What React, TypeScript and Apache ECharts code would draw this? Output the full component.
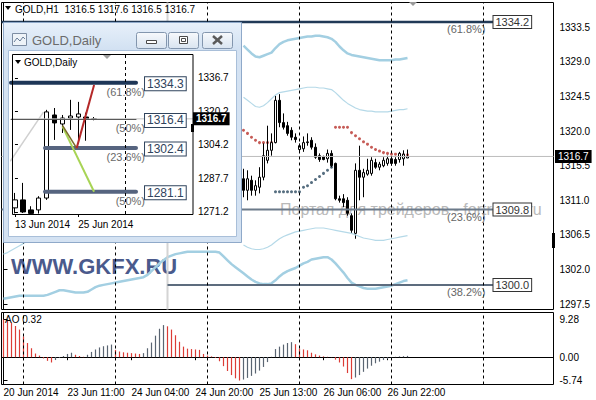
import React, { useEffect, useRef } from "react";
import * as echarts from "echarts";

const FONT = '"Liberation Sans", Arial, sans-serif';

// ---------------- H1 (main) chart data ----------------
const hourDays: [string, number, number][] = [
  ["20 Jun", 18, 22], ["23 Jun", 0, 22], ["24 Jun", 0, 22], ["25 Jun", 0, 22],
  ["26 Jun", 0, 22], ["27 Jun", 0, 22], ["30 Jun", 0, 17],
];
const h1Categories: string[] = [];
hourDays.forEach(([d, a, b]) => {
  for (let h = a; h <= b; h++) h1Categories.push(`${d} ${String(h).padStart(2, "0")}:00`);
});
const timeTickCats = ["20 Jun 18:00", "23 Jun 11:00", "24 Jun 04:00", "24 Jun 20:00", "25 Jun 13:00", "26 Jun 06:00", "26 Jun 22:00"];
const timeTickLabels = ["20 Jun 2014", "23 Jun 11:00", "24 Jun 04:00", "24 Jun 20:00", "25 Jun 13:00", "26 Jun 06:00", "26 Jun 22:00"];
const daySeparators = ["23 Jun 00:00", "24 Jun 00:00", "25 Jun 00:00", "26 Jun 00:00", "27 Jun 00:00", "30 Jun 00:00"];

const priceTicks = [1297.5, 1302.0, 1306.5, 1311.0, 1315.5, 1320.0, 1324.5, 1329.0, 1333.5];
const aoTicks = [-5.74, 0, 9.28];

const barCount = 102;
const firstVisibleBar = 60; // earlier bars are hidden behind the Daily window
const h1Open = [1313.8,1312.3,1313.6,1312.3,1312.7,1314.0,1316.2,1317.5,1318.5,1324.0,1321.1,1320.7,1320.1,1319.2,1317.6,1317.7,1318.5,1318.8,1317.9,1316.8,1316.7,1316.4,1317.1,1315.8,1311.2,1311.2,1311.0,1309.0,1306.7,1314.9,1314.0,1314.4,1314.5,1315.9,1315.3,1315.5,1315.8,1316.4,1316.3,1316.3,1316.4,1316.5];
const h1Close = [1312.3,1313.8,1312.3,1312.9,1314.0,1316.8,1317.5,1318.5,1324.0,1321.1,1320.5,1319.7,1319.2,1318.9,1318.1,1318.5,1318.6,1317.9,1316.6,1316.3,1316.3,1317.1,1315.5,1311.2,1311.0,1310.7,1309.3,1307.1,1314.9,1314.0,1314.6,1314.9,1316.2,1315.3,1315.7,1316.2,1316.4,1315.8,1315.8,1317.1,1317.0,1316.7];
const h1Low = [1311.4,1311.0,1311.6,1311.6,1311.9,1313.6,1315.8,1316.8,1318.4,1320.5,1320.2,1319.4,1318.8,1318.5,1317.2,1317.3,1318.1,1317.6,1316.4,1316.0,1316.2,1315.9,1315.3,1311.0,1310.7,1310.1,1309.0,1306.7,1306.0,1311.0,1311.4,1314.2,1314.2,1315.1,1314.9,1315.3,1315.5,1315.5,1315.5,1315.9,1315.5,1316.5];
const h1High = [1315.1,1314.9,1314.2,1313.6,1315.3,1318.4,1320.7,1319.7,1324.6,1324.8,1322.3,1321.2,1320.5,1319.7,1318.4,1319.3,1319.7,1319.2,1318.4,1317.1,1316.8,1317.6,1317.5,1315.9,1311.6,1311.8,1311.4,1309.3,1315.8,1318.1,1315.1,1316.4,1316.6,1316.4,1316.0,1316.6,1316.8,1316.7,1316.6,1317.3,1317.5,1317.6];

// Parabolic SAR (bars 60..101)
const sarAbove = [1320.1,1319.7,1319.2,1318.8,1318.5,1318.5,1318.5,1318.5,null,null,null,null,null,null,null,null,null,null,null,null,null,null,null,1320.5,1320.5,1320.5,1320.5,1319.8,1319.4,1319.0,1318.6,1318.3,1317.9,1317.6,1317.4,1317.2,1317.1,1317.0,1317.0,1316.9,1316.9,1316.9];
const sarBelow = [null,null,null,null,null,null,null,null,1312.1,1312.1,1312.1,1312.1,1312.1,1312.1,1312.1,1312.7,1312.9,1313.3,1313.7,1314.1,1314.5,1314.9,1315.3,null,null,null,null,null,null,null,null,null,null,null,null,null,null,null,null,null,null,null];

// Bands (bars 60..101 for the upper ones)
const upperOuter = [1331.1,1330.6,1330.1,1329.7,1329.6,1329.8,1330.0,1330.2,1330.8,1331.3,1331.6,1331.8,1331.9,1332.0,1332.1,1332.2,1332.3,1332.3,1332.4,1332.4,1332.3,1332.2,1332.0,1331.6,1331.0,1330.5,1330.1,1329.9,1329.8,1329.7,1329.6,1329.5,1329.4,1329.3,1329.2,1329.2,1329.2,1329.2,1329.3,1329.3,1329.4,1329.5];
const upperInner = [1324.4,1324.0,1323.6,1323.2,1323.1,1323.3,1323.7,1324.2,1324.7,1325.0,1325.1,1325.2,1325.3,1325.4,1325.5,1325.6,1325.7,1325.7,1325.7,1325.6,1325.6,1325.5,1325.4,1325.0,1324.5,1324.0,1323.6,1323.3,1323.0,1322.8,1322.7,1322.6,1322.6,1322.5,1322.5,1322.5,1322.5,1322.6,1322.7,1322.8,1322.8,1322.9];
// lower bands, bars 0..101
const lowerInnerHead = [1304.0,1304.2,1304.5,1304.8,1305.1,1305.4,1305.7,1306.0,1306.3,1306.6];
const lowerInnerTail = [1305.2,1304.9,1304.7,1304.6,1304.6,1304.7,1304.9,1305.2,1305.6,1306.0,1306.3,1306.5,1306.7,1306.9,1307.0,1307.1,1307.2,1307.3,1307.4,1307.4,1307.4,1307.3,1307.2,1307.1,1307.0,1306.9,1306.8,1306.7,1306.5,1306.3,1306.1,1306.0,1305.9,1305.8,1305.8,1305.8,1305.9,1306.0,1306.1,1306.2,1306.3,1306.4];
const lowerOuter = [1298.2,1298.3,1298.4,1298.5,1298.6,1298.6,1298.6,1298.6,1298.6,1298.6,1298.6,1298.7,1298.9,1299.1,1299.3,1299.3,1299.2,1299.1,1299.0,1299.0,1299.0,1299.1,1299.4,1299.7,1299.9,1300.0,1300.1,1300.2,1300.3,1300.4,1300.5,1300.6,1300.7,1300.8,1300.9,1301.0,1301.3,1301.8,1302.3,1302.8,1303.2,1303.6,1303.8,1304.0,1304.1,1304.2,1304.3,1304.3,1304.3,1304.3,1304.3,1304.3,1304.3,1304.3,1304.2,1303.7,1303.2,1302.7,1302.3,1301.9,1301.5,1301.1,1300.7,1300.4,1300.2,1300.1,1300.1,1300.2,1300.6,1301.1,1301.5,1301.8,1302.0,1302.2,1302.5,1302.8,1303.0,1303.3,1303.4,1303.5,1303.6,1303.6,1303.3,1302.8,1302.2,1301.6,1300.9,1300.3,1300.0,1299.8,1299.6,1299.5,1299.5,1299.5,1299.6,1299.7,1299.8,1299.9,1300.1,1300.3,1300.5,1300.6];

// Awesome Oscillator, bars 0..101
const aoValues = [9.28,9.1,8.5,7.7,6.8,5.1,3.5,2.2,0.9,0.4,-0.3,-0.9,-1.3,-0.7,-0.2,0.3,0.8,1.1,0.6,0.3,0.1,0.6,1.3,1.9,2.4,2.7,2.9,3.1,1.8,1.4,1.2,1.1,1.0,0.9,0.8,1.0,2.2,3.6,5.3,7.0,7.9,7.6,6.8,5.4,3.8,2.6,2.1,2.0,1.9,1.8,0.8,0.4,0.2,-0.2,-1.0,-2.2,-3.4,-4.4,-5.2,-5.74,-5.5,-5.1,-4.6,-4.0,-3.3,-2.4,-1.2,0.1,2.0,2.6,3.1,3.5,3.7,3.2,2.1,1.9,1.7,1.1,0.7,0.4,0.2,0.1,0.05,-0.6,-1.3,-2.3,-3.9,-5.4,-5.0,-4.4,-3.6,-2.8,-2.1,-1.5,-1.1,-0.7,-0.4,-0.2,0.1,0.2,0.25,0.32];

// Fibonacci levels on the H1 chart
const fiboPrices = [1334.2, 1309.8, 1300.0];
const fiboPcts = ["(61.8%)", "(23.6%)", "(38.2%)"];
const fiboFrom = [-0.5, -0.5, 41];
const fiboTo = 122.5;
const fiboAnchorBar = 41;
const lastPrice = 1316.7;

// ---------------- Daily (inset) chart data ----------------
const dailyCategories = ["13 Jun","16 Jun","17 Jun","18 Jun","19 Jun","20 Jun","23 Jun","24 Jun","25 Jun","26 Jun","27 Jun","30 Jun","01 Jul","02 Jul","03 Jul","04 Jul","07 Jul","08 Jul","09 Jul","10 Jul","11 Jul","14 Jul","15 Jul"];
const dailyTickCats = ["13 Jun", "25 Jun"];
const dailyTickLabels = ["13 Jun 2014", "25 Jun 2014"];
const dailySeparator = "03 Jul";
const dailyPriceTicks = [1271.2, 1287.7, 1304.2, 1320.2, 1336.7];
const dailyOpen = [1273.2,1277.1,1272.2,1272.2,1278.0,1318.6,1314.2,1317.1,1317.6,1317.6,1316.4];
const dailyClose = [1277.1,1271.2,1270.5,1278.0,1320.1,1314.7,1317.1,1318.1,1319.1,1316.4,1316.7];
const dailyLow = [1270.5,1270.7,1270.3,1270.4,1277.1,1306.4,1309.8,1311.3,1306.4,1306.0,1316.0];
const dailyHigh = [1280.5,1285.4,1274.0,1278.9,1321.1,1322.0,1318.6,1326.0,1325.0,1319.7,1317.6];
const dailyFiboPrices = [1334.3, 1316.4, 1302.4, 1281.1];
const dailyFiboPcts = ["(61.8%)", "(50%)", "(23.6%)", "(50%)"];
const dailyFiboFrom = [-0.5, -0.5, 3.8, 3.8];
const dailyFiboTo = 15.3;
const trendGreen = [[6, 1313.0], [10, 1281.1]];
const trendOlive = [[6, 1313.5], [7.8, 1302.4]];
const trendRed = [[7.8, 1302.4], [10, 1333.3]];
const trendGray = [[-0.6, 1296.0], [3.6, 1320.0]];

// ---------------- helpers ----------------
const N = h1Categories.length;
const AO_DOWN = "#dc3c36";
const AO_UP = "#5a6572";
const fillBars = (vals: (number | null)[], start: number) => {
  const out: (number | null)[] = new Array(barCount).fill(null);
  vals.forEach((v, k) => { out[start + k] = v; });
  return out;
};

function buildMainOption(): any {
  const candles: any[] = [];
  for (let i = 0; i < barCount; i++) {
    if (i < firstVisibleBar) candles.push("-");
    else {
      const k = i - firstVisibleBar;
      candles.push([h1Open[k], h1Close[k], h1Low[k], h1High[k]]);
    }
  }
  const lowerInner: (number | null)[] = new Array(barCount).fill(null);
  lowerInnerHead.forEach((v, k) => (lowerInner[k] = v));
  lowerInnerTail.forEach((v, k) => (lowerInner[firstVisibleBar + k] = v));
  const aoColor = (i: number) => (i === 0 || aoValues[i] < aoValues[i - 1] ? AO_DOWN : AO_UP);
  const aoData = aoValues.map((v, i) => ({ value: v, itemStyle: { color: aoColor(i), opacity: 1 } }));
  const bandOuter = { color: "#a3cfe2", width: 2.5 };
  const bandInner = { color: "#b5d9e8", width: 1.2 };
  const sepLine = {
    silent: true, symbol: ["none", "none"], label: { show: false },
    lineStyle: { type: [3, 3], color: "#000", width: 1 },
    data: daySeparators.map((c) => ({ xAxis: c })),
  };
  const tickInterval = (_i: number, v: string) => timeTickCats.includes(v);
  return {
    animation: false,
    textStyle: { fontFamily: FONT },
    grid: [
      { left: 1.5, top: 2.5, width: 552, height: 307, show: true, borderColor: "#000", borderWidth: 1 },
      { left: 1.5, top: 312.5, width: 552, height: 72, show: true, borderColor: "#000", borderWidth: 1 },
    ],
    xAxis: [
      { type: "category", gridIndex: 0, data: h1Categories, boundaryGap: true, axisLine: { show: false }, axisTick: { show: false }, axisLabel: { show: false }, splitLine: { show: false } },
      {
        type: "category", gridIndex: 1, data: h1Categories, boundaryGap: true,
        axisLine: { show: true, lineStyle: { color: "#000" } },
        axisTick: { show: true, interval: tickInterval, alignWithLabel: true, length: 3, lineStyle: { color: "#000" } },
        axisLabel: { show: true, interval: tickInterval, formatter: (v: string) => timeTickLabels[timeTickCats.indexOf(v)] ?? "", align: "left", color: "#000", fontSize: 10, margin: 3, fontFamily: FONT },
        splitLine: { show: false },
      },
      { type: "value", gridIndex: 0, min: -0.5, max: N - 0.5, show: false },
      { type: "value", gridIndex: 1, min: -0.5, max: N - 0.5, show: false },
    ],
    yAxis: [
      {
        type: "value", gridIndex: 0, position: "right", min: 1296.8, max: 1336.72, scale: true,
        splitLine: { show: false },
        axisLine: { show: true, lineStyle: { color: "#000" } },
        axisTick: { show: true, customValues: priceTicks, length: 4, lineStyle: { color: "#000" } },
        axisLabel: { customValues: priceTicks, formatter: (v: number) => v.toFixed(1), color: "#000", fontSize: 10, margin: 6, fontFamily: FONT },
      },
      {
        type: "value", gridIndex: 1, position: "right", min: -6.72, max: 11.0,
        splitLine: { show: false },
        axisLine: { show: true, lineStyle: { color: "#000" } },
        axisTick: { show: true, customValues: aoTicks, length: 4, lineStyle: { color: "#000" } },
        axisLabel: { customValues: aoTicks, formatter: (v: number) => v.toFixed(2), color: "#000", fontSize: 10, margin: 6, fontFamily: FONT },
      },
    ],
    series: [
      { type: "line", xAxisIndex: 0, yAxisIndex: 0, data: fillBars(upperOuter, firstVisibleBar), showSymbol: false, lineStyle: bandOuter, silent: true },
      { type: "line", xAxisIndex: 0, yAxisIndex: 0, data: fillBars(upperInner, firstVisibleBar), showSymbol: false, lineStyle: bandInner, silent: true },
      { type: "line", xAxisIndex: 0, yAxisIndex: 0, data: lowerInner, showSymbol: false, lineStyle: bandInner, silent: true },
      { type: "line", xAxisIndex: 0, yAxisIndex: 0, data: lowerOuter, showSymbol: false, lineStyle: bandOuter, silent: true },
      { type: "line", xAxisIndex: 2, yAxisIndex: 0, data: [[fiboAnchorBar, 1296.8], [fiboAnchorBar, 1336.72]], showSymbol: false, lineStyle: { color: "#d4d4d4", width: 2 }, silent: true },
      { type: "line", xAxisIndex: 2, yAxisIndex: 0, data: [[-0.5, lastPrice], [N - 0.5, lastPrice]], showSymbol: false, lineStyle: { color: "#bdbdbd", width: 1 }, silent: true },
      ...fiboPrices.map((p, k) => ({
        type: "line", xAxisIndex: 2, yAxisIndex: 0, data: [[fiboFrom[k], p], [fiboTo, p]], showSymbol: false, silent: true,
        lineStyle: { color: ["#213a57", "#6c7a8a", "#5d6c7e"][k], width: [2.5, 2, 2][k] },
      })),
      { type: "scatter", xAxisIndex: 0, yAxisIndex: 0, data: fillBars(sarAbove, firstVisibleBar), symbol: "circle", symbolSize: 3, itemStyle: { color: "#b8322c" }, silent: true },
      { type: "scatter", xAxisIndex: 0, yAxisIndex: 0, data: fillBars(sarBelow, firstVisibleBar), symbol: "circle", symbolSize: 3, itemStyle: { color: "#2c4a60" }, silent: true },
      {
        type: "candlestick", xAxisIndex: 0, yAxisIndex: 0, data: candles, barWidth: 2,
        itemStyle: { color: "#fff", color0: "#000", borderColor: "#000", borderColor0: "#000", borderWidth: 1 },
        markLine: sepLine, silent: true,
      },
      {
        type: "bar", xAxisIndex: 1, yAxisIndex: 1, data: aoData, barWidth: 1.2, silent: true,
        itemStyle: { color: (p: any) => aoColor(p.dataIndex) },
        markLine: sepLine,
      },
    ],
  };
}

function buildMainGraphics(chart: any): any[] {
  const pt = (x: number, y: number) => chart.convertToPixel({ xAxisIndex: 2, yAxisIndex: 0 }, [x, y]) as number[];
  const g: any[] = [
    { type: "polygon", shape: { points: [[5, 6], [11, 6], [8, 10]] }, style: { fill: "#000" }, z: 20 },
    { type: "text", x: 15, y: 9, z: 20, style: { text: "GOLD,H1  1316.5 1317.6 1316.5 1316.7", fill: "#000", font: `10px ${FONT}`, verticalAlign: "middle" } },
    { type: "text", x: 5, y: 319, z: 20, style: { text: "AO 0.32", fill: "#000", font: `10px ${FONT}`, verticalAlign: "middle" } },
    { type: "text", x: 11, y: 266, z: 1, style: { text: "WWW.GKFX.RU", fill: "#4a5a8c", font: `bold 22px ${FONT}`, verticalAlign: "middle" } },
    { type: "text", x: 280, y: 209, z: 1, style: { text: "Портал для трейдеров - fortrader.ru", fill: "#b9b9b9", font: `16px ${FONT}`, verticalAlign: "middle" } },
    { type: "polygon", shape: { points: [[409, 2], [417, 2], [413, 6]] }, style: { fill: "#9a9a9a" }, z: 20 },
    { type: "rect", shape: { x: 552, y: 233, width: 3, height: 15 }, style: { fill: "#000" }, z: 20 },
  ];
  fiboPrices.forEach((p, k) => {
    const [x, y] = pt(fiboTo, p);
    g.push({ type: "text", x: x, y: y, z: 20, style: { text: p.toFixed(1), fill: "#333", font: `11px ${FONT}`, backgroundColor: "#fff", borderColor: "#333", borderWidth: 1, padding: [1, 2, 0, 2], verticalAlign: "middle", align: "left" } });
    g.push({ type: "text", x: x - 8, y: y + 7, z: 20, style: { text: fiboPcts[k], fill: "#666", font: `11px ${FONT}`, verticalAlign: "middle", align: "right" } });
  });
  const [, ly] = pt(N - 0.5, lastPrice);
  g.push({ type: "text", x: 555, y: ly, z: 20, style: { text: lastPrice.toFixed(1), fill: "#fff", font: `10px ${FONT}`, backgroundColor: "#000", padding: [2, 3, 1, 3], verticalAlign: "middle", align: "left" } });
  return g;
}

function buildInsetOption(): any {
  const candles = dailyOpen.map((o, k) => [o, dailyClose[k], dailyLow[k], dailyHigh[k]]);
  const tickInterval = (_i: number, v: string) => dailyTickCats.includes(v);
  return {
    animation: false,
    textStyle: { fontFamily: FONT },
    grid: { left: 8, top: 32, width: 182, height: 160, show: false },
    xAxis: [
      {
        type: "category", data: dailyCategories, boundaryGap: true,
        axisLine: { show: false },
        axisTick: { show: true, interval: tickInterval, alignWithLabel: true, length: 3, lineStyle: { color: "#000" } },
        axisLabel: { interval: tickInterval, formatter: (v: string) => dailyTickLabels[dailyTickCats.indexOf(v)] ?? "", align: "left", color: "#000", fontSize: 10, margin: 5, fontFamily: FONT },
        splitLine: { show: false },
      },
      { type: "value", min: -0.5, max: dailyCategories.length - 0.5, show: false },
    ],
    yAxis: {
      type: "value", position: "right", min: 1270.2, max: 1348.4, scale: true,
      splitLine: { show: false },
      axisLine: { show: false },
      axisTick: { show: true, customValues: dailyPriceTicks, length: 3, lineStyle: { color: "#000" } },
      axisLabel: { customValues: dailyPriceTicks, formatter: (v: number) => v.toFixed(1), color: "#000", fontSize: 10, margin: 5, fontFamily: FONT },
    },
    series: [
      { type: "line", xAxisIndex: 1, data: trendGray, showSymbol: false, lineStyle: { color: "#d0d0d0", width: 1.5 }, silent: true },
      { type: "line", xAxisIndex: 1, data: [[-0.5, lastPrice], [dailyCategories.length - 0.5, lastPrice]], showSymbol: false, lineStyle: { color: "#c4c4c4", width: 1 }, silent: true },
      ...dailyFiboPrices.map((p, k) => ({
        type: "line", xAxisIndex: 1, data: [[dailyFiboFrom[k], p], [dailyFiboTo, p]], showSymbol: false, silent: true,
        lineStyle: { color: ["#1d3657", "#555", "#56647f", "#56647f"][k], width: [4, 1, 4, 4][k], cap: "round" },
      })),
      {
        type: "candlestick", data: candles, barWidth: 5,
        itemStyle: { color: "#fff", color0: "#000", borderColor: "#000", borderColor0: "#000", borderWidth: 1 },
        markLine: { silent: true, symbol: ["none", "none"], label: { show: false }, lineStyle: { type: [3, 3], color: "#000", width: 1 }, data: [{ xAxis: dailySeparator }] },
        silent: true,
      },
      { type: "line", xAxisIndex: 1, data: trendGreen, showSymbol: false, lineStyle: { color: "#a8d455", width: 2 }, silent: true },
      { type: "line", xAxisIndex: 1, data: trendOlive, showSymbol: false, lineStyle: { color: "#7a6a2a", width: 1.5 }, silent: true },
      { type: "line", xAxisIndex: 1, data: trendRed, showSymbol: false, lineStyle: { color: "#b42828", width: 2 }, silent: true },
    ],
  };
}

function buildInsetGraphics(chart: any): any[] {
  const pt = (x: number, y: number) => chart.convertToPixel({ xAxisIndex: 1, yAxisIndex: 0 }, [x, y]) as number[];
  const grad = (a: string, b: string) => new echarts.graphic.LinearGradient(0, 0, 0, 1, [{ offset: 0, color: a }, { offset: 1, color: b }]);
  const g: any[] = [
    { type: "rect", shape: { x: 0.5, y: 0.5, width: 238, height: 220 }, style: { fill: "#d4e2f2", stroke: "#8fa9c9", lineWidth: 1 }, z: 0 },
    { type: "rect", shape: { x: 1, y: 1, width: 237, height: 27 }, style: { fill: grad("#e7f0fa", "#d2e1f2") }, z: 0 },
    { type: "rect", shape: { x: 5.5, y: 28.5, width: 228, height: 186 }, style: { fill: "#fff", stroke: "#a9bfd9", lineWidth: 1 }, z: 0 },
    // icon
    { type: "rect", shape: { x: 9.5, y: 11.5, width: 14, height: 12 }, style: { fill: "#eef3f8", stroke: "#7d8da3", lineWidth: 1 }, z: 1 },
    { type: "polyline", shape: { points: [[11, 20], [14, 16], [17, 19], [20, 15], [22, 17]] }, style: { stroke: "#6a7f9a", fill: "none", lineWidth: 1 }, z: 1 },
    { type: "text", x: 29, y: 18, z: 1, style: { text: "GOLD,Daily", fill: "#6b6b6b", font: `13px ${FONT}`, verticalAlign: "middle" } },
    // inner chart title & frame
    { type: "polygon", shape: { points: [[12, 38], [18, 38], [15, 42]] }, style: { fill: "#000" }, z: 20 },
    { type: "text", x: 21, y: 40, z: 20, style: { text: "GOLD,Daily", fill: "#000", font: `10px ${FONT}`, verticalAlign: "middle" } },
    { type: "rect", shape: { x: 9.5, y: 32.5, width: 180.5, height: 160 }, style: { fill: "none", stroke: "#000", lineWidth: 1 }, z: 20 },
    { type: "polygon", shape: { points: [[100, 33], [108, 33], [104, 37]] }, style: { fill: "#a0a0a0" }, z: 20 },
    { type: "rect", shape: { x: 188, y: 102, width: 3, height: 8 }, style: { fill: "#000" }, z: 21 },
  ];
  [133, 165, 199].forEach((bx, k) => {
    g.push({ type: "rect", shape: { x: bx + 0.5, y: 10.5, width: 30, height: 16, r: 2 }, style: { fill: grad("#f7f9fc", "#d9e4f0"), stroke: "#8396ae", lineWidth: 1 }, z: 1 });
    if (k === 0) g.push({ type: "rect", shape: { x: bx + 10.5, y: 18.5, width: 10, height: 3 }, style: { fill: "#fff", stroke: "#4a4a4a", lineWidth: 1 }, z: 2 });
    if (k === 1) {
      g.push({ type: "rect", shape: { x: bx + 11.5, y: 14.5, width: 8, height: 7 }, style: { fill: "#fff", stroke: "#4a4a4a", lineWidth: 1 }, z: 2 });
      g.push({ type: "rect", shape: { x: bx + 13.5, y: 16.5, width: 4, height: 3 }, style: { fill: "none", stroke: "#4a4a4a", lineWidth: 1 }, z: 2 });
    }
    if (k === 2) {
      g.push({ type: "line", shape: { x1: bx + 11, y1: 14, x2: bx + 20, y2: 22 }, style: { stroke: "#5a5a5a", lineWidth: 2.5 }, z: 2 });
      g.push({ type: "line", shape: { x1: bx + 20, y1: 14, x2: bx + 11, y2: 22 }, style: { stroke: "#5a5a5a", lineWidth: 2.5 }, z: 2 });
    }
  });
  dailyFiboPrices.forEach((p, k) => {
    const [x, y] = pt(dailyFiboTo, p);
    g.push({ type: "text", x: x + 9, y: y + 1, z: 22, style: { text: p.toFixed(1), fill: "#2f435c", font: `12px ${FONT}`, backgroundColor: "#fff", borderColor: "#2f435c", borderWidth: 1, padding: [1, 2, 0, 2], verticalAlign: "middle", align: "left" } });
    g.push({ type: "text", x: x + 9, y: y + 9, z: 21, style: { text: dailyFiboPcts[k], fill: "#6a6a6a", font: `11px ${FONT}`, verticalAlign: "middle", align: "right" } });
  });
  const [, ly] = pt(dailyCategories.length - 0.5, lastPrice);
  g.push({ type: "text", x: 190, y: ly, z: 22, style: { text: lastPrice.toFixed(1), fill: "#fff", font: `bold 10px ${FONT}`, backgroundColor: "#000", padding: [2, 3, 1, 3], verticalAlign: "middle", align: "left" } });
  return g;
}

export default function App() {
  const mainRef = useRef<HTMLDivElement>(null);
  const insetRef = useRef<HTMLDivElement>(null);
  useEffect(() => {
    document.body.style.margin = "0";
    const main = echarts.init(mainRef.current!, undefined, { renderer: "svg" });
    main.setOption(buildMainOption());
    main.setOption({ graphic: buildMainGraphics(main) });
    const inset = echarts.init(insetRef.current!, undefined, { renderer: "svg" });
    inset.setOption(buildInsetOption());
    inset.setOption({ graphic: buildInsetGraphics(inset) });
    return () => {
      main.dispose();
      inset.dispose();
    };
  }, []);
  return (
    <div style={{ position: "fixed", left: 0, top: 0, width: 596, height: 400, background: "#fff" }}>
      <div ref={mainRef} style={{ position: "absolute", left: 0, top: 0, width: 596, height: 400 }} />
      <div ref={insetRef} style={{ position: "absolute", left: 3, top: 22, width: 239, height: 221 }} />
    </div>
  );
}
